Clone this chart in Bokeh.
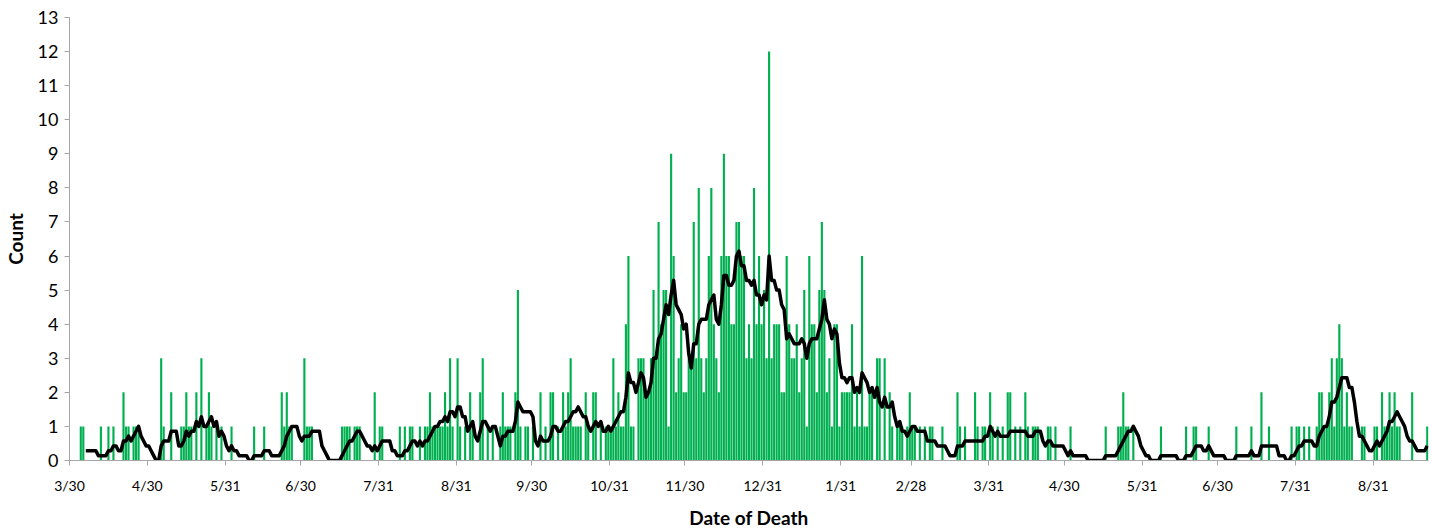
import numpy as np
import pandas as pd
from bokeh.plotting import figure
from bokeh.models import ColumnDataSource, Range1d, FixedTicker
from bokeh.embed import file_html
from bokeh.resources import INLINE

# ---- data: daily death counts, starting 2020-03-30 ----
start_date = "2020-03-30"

counts_2020 = [
    0, 0, 0, 0, 1, 1, 0, 0, 0, 0,
    0, 0, 1, 0, 0, 1, 0, 1, 0, 0,
    0, 2, 1, 1, 0, 1, 1, 1, 0, 0,
    0, 0, 0, 0, 0, 0, 3, 1, 0, 0,
    2, 0, 0, 0, 1, 1, 2, 1, 1, 0,
    2, 0, 3, 0, 1, 2, 1, 0, 1, 0,
    1, 0, 0, 0, 1, 0, 0, 0, 0, 0,
    0, 0, 0, 1, 0, 0, 0, 1, 0, 0,
    0, 0, 0, 0, 2, 1, 2, 1, 1, 0,
    0, 0, 0, 3, 1, 1, 1, 0, 0, 0,
    0, 0, 0, 0, 0, 0, 0, 0, 1, 1,
    1, 1, 0, 1, 1, 1, 0, 0, 0, 0,
    0, 2, 0, 1, 1, 0, 0, 0, 0, 0,
    0, 1, 0, 1, 0, 1, 1, 0, 0, 1,
    0, 1, 1, 2, 1, 1, 1, 1, 1, 2,
    1, 3, 1, 0, 3, 1, 0, 1, 0, 2,
    1, 0, 0, 2, 3, 0, 1, 0, 1, 0,
    0, 1, 2, 1, 1, 1, 0, 2, 5, 1,
    0, 1, 1, 0, 1, 0, 0, 2, 0, 1,
    0, 2, 2, 0, 1, 0, 2, 1, 2, 3,
    1, 1, 1, 1, 0, 2, 1, 0, 2, 2,
    0, 1, 0, 1, 1, 1, 3, 1, 2, 1,
    1, 4, 6, 1, 1, 0, 3, 3, 3, 2,
    2, 3, 5, 3, 7, 4, 5, 5, 1, 9,
    6, 2, 3, 4, 2, 2, 3, 3, 7, 3,
    8, 3, 2, 3, 6, 8, 4, 3, 2, 6,
    9, 6, 6, 4, 4, 7, 7, 6, 6, 3,
    4, 3, 8, 4, 6, 4, 5,
]

counts_2021 = [
    3, 12, 3,
    4, 4, 4, 2, 2, 6, 4, 3, 3, 4,
    2, 3, 5, 1, 6, 4, 4, 2, 5, 7,
    5, 2, 3, 1, 4, 4, 1, 2, 2, 2,
    2, 4, 1, 2, 1, 6, 1, 1, 2, 2,
    0, 3, 3, 0, 3, 0, 2, 1, 0, 1,
    1, 1, 0, 1, 2, 1, 1, 0, 1, 0,
    1, 0, 1, 1, 0, 0, 0, 1, 0, 0,
    0, 0, 0, 2, 1, 0, 1, 0, 0, 0,
    2, 1, 0, 1, 1, 0, 2, 1, 0, 1,
    0, 1, 0, 2, 2, 0, 1, 0, 1, 0,
    2, 1, 0, 1, 1, 1, 0, 0, 0, 1,
    1, 0, 1, 0, 0, 0, 0, 0, 1, 0,
    0, 0, 0, 0, 0, 0, 0, 0, 0, 0,
    0, 0, 1, 0, 0, 0, 0, 1, 1, 2,
    1, 1, 0, 1, 0, 0, 0, 0, 0, 0,
    0, 0, 0, 0, 1, 0, 0, 0, 0, 0,
    0, 0, 0, 0, 1, 0, 0, 1, 1, 0,
    0, 0, 0, 1, 0, 0, 0, 0, 0, 0,
    0, 0, 0, 0, 1, 0, 0, 0, 0, 0,
    1, 0, 0, 0, 2, 0, 0, 1, 0, 0,
    0, 0, 0, 0, 0, 0, 1, 0, 1, 1,
    0, 1, 0, 1, 0, 0, 1, 2, 2, 1,
    1, 2, 3, 1, 3, 4, 3, 1, 2, 1,
    1, 0, 0, 0, 1, 1, 0, 0, 0, 1,
    1, 0, 2, 1, 1, 2, 1, 2, 1, 1,
    0, 0, 0, 0, 2, 0, 0, 0, 0, 0,
    1,
]

tick_dates = ["2020-03-30", "2020-04-30", "2020-05-31", "2020-06-30",
              "2020-07-31", "2020-08-31", "2020-09-30", "2020-10-31",
              "2020-11-30", "2020-12-31", "2021-01-31", "2021-02-28",
              "2021-03-31", "2021-04-30", "2021-05-31", "2021-06-30",
              "2021-07-31", "2021-08-31"]
tick_labels = ["3/30", "4/30", "5/31", "6/30", "7/31", "8/31", "9/30",
               "10/31", "11/30", "12/31", "1/31", "2/28", "3/31", "4/30",
               "5/31", "6/30", "7/31", "8/31"]
y_ticks = list(range(0, 14))

# ---- build ----
counts = counts_2020 + counts_2021
start = pd.Timestamp(start_date)
day = np.arange(len(counts))
avg7 = pd.Series(counts, dtype=float).rolling(7).mean()

src = ColumnDataSource(dict(x=day + 0.5, count=counts, avg=avg7.values))

tick_pos = [(pd.Timestamp(d) - start).days for d in tick_dates]

p = figure(width=1432, height=531, output_backend="svg", toolbar_location=None,
           x_range=Range1d(0, len(counts)), y_range=Range1d(0, 13),
           min_border_left=68, min_border_right=4, min_border_top=17,
           min_border_bottom=71)

p.vbar(x="x", top="count", width=0.85, source=src,
       fill_color="#00B050", line_color=None)
p.line(x="x", y="avg", source=src, line_color="black", line_width=3.5,
       line_join="round")

p.grid.visible = False
p.outline_line_color = None
p.background_fill_color = "white"

FONT = "Lato"
ax = p.xaxis[0]
ax.ticker = FixedTicker(ticks=tick_pos)
ax.major_label_overrides = {pos: lab for pos, lab in zip(tick_pos, tick_labels)}
ax.minor_tick_line_color = None
ax.major_tick_in = 0
ax.major_tick_out = 5
ax.axis_line_color = "#A6A6A6"
ax.major_tick_line_color = "#A6A6A6"
ax.major_label_text_font = FONT
ax.major_label_text_font_size = "14px"
ax.major_label_text_color = "#000000"
ax.major_label_standoff = 11
ax.axis_label = "Date of Death"
ax.axis_label_text_font = FONT
ax.axis_label_text_font_style = "bold"
ax.axis_label_text_font_size = "19px"
ax.axis_label_text_color = "#000000"
ax.axis_label_standoff = 9

ay = p.yaxis[0]
ay.ticker = FixedTicker(ticks=y_ticks)
ay.minor_tick_line_color = None
ay.major_tick_in = 0
ay.major_tick_out = 5
ay.axis_line_color = "#A6A6A6"
ay.major_tick_line_color = "#A6A6A6"
ay.major_label_text_font = FONT
ay.major_label_text_font_size = "18px"
ay.major_label_text_color = "#000000"
ay.major_label_standoff = 6
ay.axis_label = "Count"
ay.axis_label_text_font = FONT
ay.axis_label_text_font_style = "bold"
ay.axis_label_text_font_size = "19px"
ay.axis_label_text_color = "#000000"
ay.axis_label_standoff = 8

open("out.html", "w").write(file_html(p, INLINE))
